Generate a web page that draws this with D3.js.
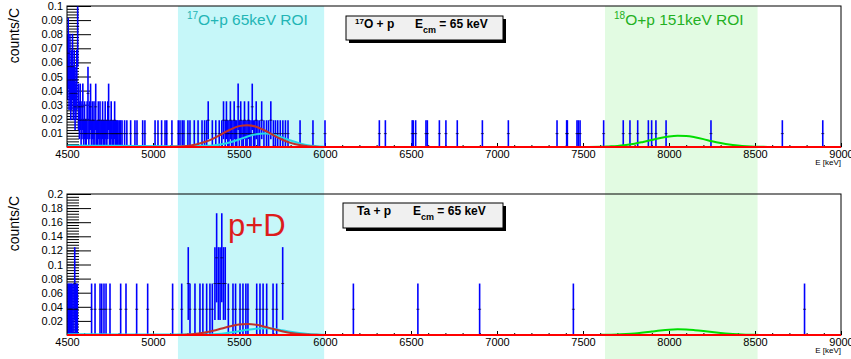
<!DOCTYPE html>
<html>
<head>
<meta charset="utf-8">
<script src="https://cdn.jsdelivr.net/npm/d3@7"></script>
<style>
  body { margin: 0; background: #fff; }
  svg { display: block; }
  text { font-family: "Liberation Sans", Arial, sans-serif; }
</style>
</head>
<body>
<svg id="chart" width="851" height="359"></svg>
<script>
// ---- data (bin centre in keV, counts in bin) ----
const topBinE = [4502,4507,4512,4517,4522,4527,4532,4537,4542,4547,4552,4557,4562,4567,
  4572,4577,4582,4587,4592,4597,4602,4607,4612,4617,4622,4627,4632,4637,4642,4647,4652,4657,4662,4667,4672,4677,4682,4687,4692,4697,4702,4707,4712,4717,4722,4727,4732,4737,4742,4747,4752,4757,4762,4767,4772,4777,4782,4787,4792,4797,4805,4812,
  4820,4835,4848,4870,4895,4907,4940,4953,5012,5029,5050,5070,5080,5110,5147,5157,
  5170,5180,5203,5215,5240,5262,5285,5300,5312,5321,5345,5365,5385,5400,5410,5420,5427,5435,5442,5450,5457,5465,5472,5480,5487,5495,5502,5510,5517,5525,5532,5540,5547,5555,5562,5570,5577,5585,5592,5600,5610,5620,5632,5645,5660,5672,5685,5700,5712,5725,5740,5755,5770,5785,5855,5930,
  6000,6316,6351,6507,6513,6527,6587,6595,6665,6703,6769,6915,7066,7349,7405,7409,7465,7473,7483,7620,7734,7773,7818,7880,7899,7924,7983,8244,8659,8894];
const topBinN = [6,7,5,6,4,5,6,4,5,3,4,5,9,3,
  2,3,1,2,3,1,2,1,1,2,4,1,2,3,1,2,1,2,1,3,1,1,2,1,2,1,1,2,1,1,2,1,1,2,3,1,1,2,1,1,1,2,1,1,1,1,1,1,
  1,1,1,1,1,1,1,1,1,1,1,1,1,1,1,1,
  1,1,1,1,1,1,1,1,1,2,1,1,1,1,2,1,2,1,1,2,1,1,2,1,1,3,1,2,1,1,2,1,1,2,1,1,3,1,1,2,1,1,2,1,1,1,2,1,1,1,1,1,1,1,1,1,
  1,1,1,1,1,1,1,1,1,1,1,1,1,1,1,1,1,1,1,1,1,1,1,1,1,1,1,1,1,1];
const botBinE = [4505,4510,4515,4520,4525,4530,4540,4545,4550,4555,4560,4643,4663,4692,4702,4715,4727,4750,4812,4843,4905,4969,5114,5167,5205,5215,5244,5273,5290,5312,5331,5345,5360,5370,5380,5390,5400,5410,5420,5438,5465,5480,5506,5523,5540,5552,5603,5622,5640,5661,5698,5719,5754,6165,6540,6899,7444,8788];
const botBinN = [1,1,1,1,1,1,1,2,1,1,1,1,1,1,1,1,1,1,1,1,1,1,1,1,2,1,1,1,1,1,1,1,2,3,2,2,3,2,2,1,1,1,1,1,1,1,1,1,1,1,1,1,2,1,1,1,1,1];
const topScale = 0.0095;   // counts/C per count
const botScale = 0.0365;

// fit curves (keV, counts/C)
const redFitE = [5100,5200,5250,5300,5350,5400,5450,5500,5550,5600,5650,5700,5750,5800,5850,5900,5950,6000];
const redFitY = [0.0001,0.0008,0.0018,0.0035,0.006,0.0092,0.0124,0.0148,0.0155,0.0144,0.0117,0.0084,0.0053,0.0029,0.0014,0.0006,0.0002,0];
const cyanFitE = [4500,4800,5100,5300,5350,5400,5450,5500,5550,5600,5650,5700,5750,5800,5850,5900,5950,6000];
const cyanFitY = [0.001,0.0008,0.0006,0.0008,0.0011,0.0019,0.0034,0.0053,0.0075,0.009,0.0095,0.0087,0.0068,0.0046,0.0027,0.0013,0.0006,0.0002];
const greenFitE = [7400,7500,7600,7650,7700,7750,7800,7850,7900,7950,8000,8050,8100,8150,8200,8250,8300,8350,8400,8450,8500,8550,8600];
const greenFitY = [0,0.00003,0.00016,0.0004,0.0007,0.0014,0.0023,0.0036,0.005,0.0064,0.0075,0.008,0.0078,0.0069,0.0056,0.0041,0.0028,0.0017,0.001,0.0005,0.0002,0.0001,0];

const xTicks = [4500,5000,5500,6000,6500,7000,7500,8000,8500,9000];
const topYTicks = [0.01,0.02,0.03,0.04,0.05,0.06,0.07,0.08,0.09,0.1];
const botYTicks = [0.02,0.04,0.06,0.08,0.1,0.12,0.14,0.16,0.18,0.2];
const rois = [
  { from: 5145, to: 5995, fill: "#c6f7f9", color: "#22b5b5", label: "O+p 65keV ROI", iso: "17" },
  { from: 7628, to: 8515, fill: "#e2fbe2", color: "#22b022", label: "O+p 151keV ROI", iso: "18" }
];

const svg = d3.select("#chart");
const x = d3.scaleLinear().domain([4500, 9000]).range([67, 841]);

const panels = [
  { y0: 6, y1: 147, max: 0.1, ticks: topYTicks, minorStep: 0.002, e: topBinE, n: topBinN, s: topScale, title: "O + p", iso: "17", box: [346, 16, 157, 24], textX: 355, eX: 415 },
  { y0: 194, y1: 335, max: 0.2, ticks: botYTicks, minorStep: 0.004, e: botBinE, n: botBinN, s: botScale, title: "Ta + p", iso: "", box: [343, 203, 160, 25], textX: 357, eX: 413 }
];

// ROI bands span both pads
rois.forEach(r => {
  svg.append("rect")
    .attr("x", x(r.from)).attr("y", 6)
    .attr("width", x(r.to) - x(r.from)).attr("height", 353)
    .attr("fill", r.fill);
});

panels.forEach((p, i) => {
  const y = d3.scaleLinear().domain([0, p.max]).range([p.y1, p.y0]);
  const g = svg.append("g");
  const clipId = "clip" + i;
  svg.append("clipPath").attr("id", clipId).append("rect")
    .attr("x", 67).attr("y", p.y0).attr("width", 774).attr("height", p.y1 - p.y0);

  // x ticks (inside, pointing up)
  const minorX = d3.range(4600, 9000, 100).filter(v => v % 500 !== 0);
  g.append("g").attr("transform", `translate(0,${p.y1})`)
    .call(d3.axisBottom(x).tickValues(minorX).tickSize(-2).tickFormat(""))
    .call(a => a.select(".domain").remove());
  g.append("g").attr("transform", `translate(0,${p.y1})`)
    .call(d3.axisBottom(x).tickValues(xTicks).tickSize(-4).tickPadding(3).tickFormat(d3.format("d")))
    .call(a => a.select(".domain").remove())
    .call(a => a.selectAll("text").attr("font-size", 11).attr("fill", "#000"));

  // y ticks (inside, pointing right)
  const minorY = d3.range(1, Math.round(p.max / p.minorStep)).map(k => k * p.minorStep);
  g.append("g").attr("transform", "translate(67,0)")
    .call(d3.axisLeft(y).tickValues(minorY).tickSize(-12).tickFormat(""))
    .call(a => a.select(".domain").remove());
  g.append("g").attr("transform", "translate(67,0)")
    .call(d3.axisLeft(y).tickValues(p.ticks).tickSize(-24).tickPadding(4).tickFormat(d => String(d)))
    .call(a => a.select(".domain").remove())
    .call(a => a.selectAll("text").attr("font-size", 11).attr("fill", "#000"));

  // histogram with error bars
  const bins = p.e.map((e, k) => ({ e: e, v: p.n[k] * p.s, err: Math.sqrt(p.n[k]) * p.s }));
  const hg = g.append("g").attr("clip-path", `url(#${clipId})`);
  hg.selectAll("line.err").data(bins).enter().append("line")
    .attr("class", "err")
    .attr("x1", d => x(d.e)).attr("x2", d => x(d.e))
    .attr("y1", d => y(Math.max(0, d.v - d.err))).attr("y2", d => y(d.v + d.err))
    .attr("stroke", "#0000ff").attr("stroke-width", 1.6);
  hg.selectAll("line.mark").data(bins).enter().append("line")
    .attr("class", "mark")
    .attr("x1", d => x(d.e) - 1.5).attr("x2", d => x(d.e) + 1.5)
    .attr("y1", d => y(d.v)).attr("y2", d => y(d.v))
    .attr("stroke", "#000033").attr("stroke-width", 1).attr("opacity", 0.7);

  // fitted functions
  const line = d3.line().x(d => x(d[0])).y(d => y(d[1])).curve(d3.curveMonotoneX);
  const fg = g.append("g").attr("clip-path", `url(#${clipId})`).attr("fill", "none");
  fg.append("path").datum([[4500, 0], [9000, 0]]).attr("d", line)
    .attr("stroke", "#ff0000").attr("stroke-width", 2);
  fg.append("path").datum(greenFitE.map((e, k) => [e, greenFitY[k]])).attr("d", line)
    .attr("stroke", "#00dd00").attr("stroke-width", 2);
  fg.append("path").datum(cyanFitE.map((e, k) => [e, cyanFitY[k]])).attr("d", line)
    .attr("stroke", "#22d8e8").attr("stroke-width", 2);
  fg.append("path").datum(redFitE.map((e, k) => [e, redFitY[k]])).attr("d", line)
    .attr("stroke", "#c0302a").attr("stroke-width", 2);

  // frame
  g.append("rect").attr("x", 67).attr("y", p.y0).attr("width", 774).attr("height", p.y1 - p.y0)
    .attr("fill", "none").attr("stroke", "#000").attr("stroke-width", 1);
  g.append("line").attr("x1", 67).attr("x2", 841).attr("y1", p.y1).attr("y2", p.y1)
    .attr("stroke", "#ff0000").attr("stroke-width", 2);

  // axis titles
  g.append("text").attr("transform", `translate(19,${p.y0 + 2}) rotate(-90)`)
    .attr("text-anchor", "end").attr("font-size", 14).text("counts/C");
  g.append("text").attr("x", 841).attr("y", p.y1 + 18).attr("text-anchor", "end")
    .attr("font-size", 8).text("E [keV]");

  // title pave with shadow
  const [bx, by, bw, bh] = p.box;
  g.append("rect").attr("x", bx + 3).attr("y", by + 3).attr("width", bw).attr("height", bh).attr("fill", "#000");
  g.append("rect").attr("x", bx).attr("y", by).attr("width", bw).attr("height", bh)
    .attr("fill", "#f0f0f0").attr("stroke", "#000").attr("stroke-width", 1);
  const t = g.append("text").attr("x", p.textX).attr("y", by + 12).attr("font-size", 12)
    .attr("font-weight", "bold");
  if (p.iso) t.append("tspan").attr("font-size", 8).attr("dy", -4).text(p.iso);
  t.append("tspan").attr("dy", p.iso ? 4 : 0).text(p.title);
  t.append("tspan").attr("x", p.eX).text("E");
  t.append("tspan").attr("font-size", 9).attr("dy", 5).text("cm");
  t.append("tspan").attr("dy", -5).text(" = 65 keV");
});

// ROI labels
rois.forEach(r => {
  const t = svg.append("text").attr("x", x(r.from) + 9).attr("y", 25)
    .attr("font-family", "'Noto Sans', 'Open Sans', sans-serif").attr("font-size", 15.5)
    .attr("fill", r.color);
  t.append("tspan").attr("font-size", 10).attr("dy", -6).text(r.iso);
  t.append("tspan").attr("dy", 6).text(r.label);
});

// p+D annotation
svg.append("text").attr("x", 228).attr("y", 236)
  .attr("font-family", "'Noto Sans', sans-serif").attr("font-size", 31)
  .attr("fill", "#dd1c1c").text("p+D");
</script>
</body>
</html>
